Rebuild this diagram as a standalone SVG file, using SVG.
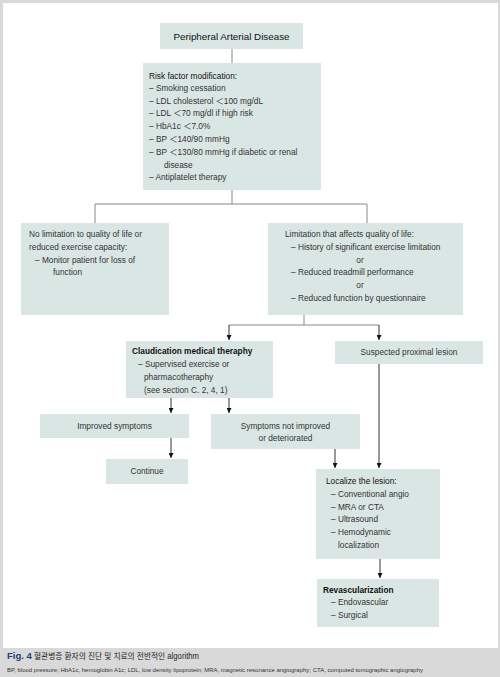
<svg xmlns="http://www.w3.org/2000/svg" width="500" height="677" viewBox="0 0 500 677">
<defs>
<marker id="arr" viewBox="0 0 10 10" refX="10" refY="5" markerWidth="5" markerHeight="5" orient="auto" markerUnits="userSpaceOnUse">
<path d="M0,0 L10,5 L0,10 z" fill="#111"/>
</marker>
<style>
.box{fill:#dae6e3}
.t{font-family:"Liberation Sans","Noto Sans CJK KR",sans-serif;font-size:8.3px;fill:#333}
.h{fill:#111}
.b{font-weight:bold;fill:#111}
.c{text-anchor:middle}
.ln{fill:none;stroke:#888;stroke-width:1}
.ar{fill:none;stroke:#333;stroke-width:1;marker-end:url(#arr)}
</style>
</defs>
<rect x="0" y="0" width="500" height="677" fill="#d9d9d9"/>
<rect x="3" y="3" width="495" height="645" fill="#ffffff"/>

<g id="connectors">
<path class="ln" d="M232,49 V63"/>
<path class="ln" d="M232,190 V204 M95,204 H367 M95,204 V223 M367,204 V223"/>
<path class="ln" d="M304,315 V325 M229,325 H379"/>
<path class="ar" d="M229,325 V340"/>
<path class="ar" d="M379,325 V340"/>
<path class="ar" d="M171,398 V413"/>
<path class="ar" d="M229,398 V413"/>
<path class="ar" d="M171,438 V458"/>
<path class="ar" d="M335,449 V468"/>
<path class="ar" d="M379,364 V468"/>
<path class="ar" d="M380,559 V578"/>
</g>

<g id="pad">
<rect class="box" x="160" y="23" width="143" height="26"/>
<text class="t c" x="231.5" y="39.5" style="font-size:9.8px;fill:#111">Peripheral Arterial Disease</text>
</g>

<g id="risk">
<rect class="box" x="143" y="63" width="178" height="127"/>
<text class="t h" x="149" y="79">Risk factor modification:</text>
<text class="t" x="149" y="91">– Smoking cessation</text>
<text class="t" x="149" y="103.5">– LDL cholesterol ＜100 mg/dL</text>
<text class="t" x="149" y="116">– LDL ＜70 mg/dl if high risk</text>
<text class="t" x="149" y="129">– HbA1c ＜7.0%</text>
<text class="t" x="149" y="142">– BP ＜140/90 mmHg</text>
<text class="t" x="149" y="155">– BP ＜130/80 mmHg if diabetic or renal</text>
<text class="t" x="164" y="167.5">disease</text>
<text class="t" x="149" y="180">– Antiplatelet therapy</text>
</g>

<g id="nolimit">
<rect class="box" x="21" y="223" width="148" height="92"/>
<text class="t" x="29" y="237">No limitation to quality of life or</text>
<text class="t" x="29" y="250">reduced exercise capacity:</text>
<text class="t" x="35" y="262.5">– Monitor patient for loss of</text>
<text class="t" x="53" y="275">function</text>
</g>

<g id="limit">
<rect class="box" x="268" y="223" width="195" height="92"/>
<text class="t" x="285" y="237">Limitation that affects quality of life:</text>
<text class="t" x="291" y="250">– History of significant exercise limitation</text>
<text class="t c" x="360" y="263">or</text>
<text class="t" x="291" y="275">– Reduced treadmill performance</text>
<text class="t c" x="360" y="288">or</text>
<text class="t" x="291" y="301">– Reduced function by questionnaire</text>
</g>

<g id="claudication">
<rect class="box" x="126" y="341" width="147" height="57"/>
<text class="t b" x="132" y="354">Claudication medical theraphy</text>
<text class="t" x="138" y="367">– Supervised exercise or</text>
<text class="t" x="144" y="380">pharmacotheraphy</text>
<text class="t" x="144" y="392.5">(see section C. 2, 4, 1)</text>
</g>

<g id="proximal">
<rect class="box" x="335" y="341" width="148" height="23"/>
<text class="t c" x="409" y="355">Suspected proximal lesion</text>
</g>

<g id="improved">
<rect class="box" x="40" y="414" width="149" height="24"/>
<text class="t c" x="114.5" y="429">Improved symptoms</text>
</g>

<g id="notimproved">
<rect class="box" x="211" y="414" width="149" height="35"/>
<text class="t c" x="285.5" y="429">Symptoms not improved</text>
<text class="t c" x="285.5" y="441">or deteriorated</text>
</g>

<g id="continue">
<rect class="box" x="106" y="459" width="82" height="25"/>
<text class="t c" x="147" y="474">Continue</text>
</g>

<g id="localize">
<rect class="box" x="316" y="469" width="124" height="90"/>
<text class="t h" x="326" y="484">Localize the lesion:</text>
<text class="t" x="331" y="497">– Conventional angio</text>
<text class="t" x="331" y="509.5">– MRA or CTA</text>
<text class="t" x="331" y="522">– Ultrasound</text>
<text class="t" x="331" y="535">– Hemodynamic</text>
<text class="t" x="338" y="547.5">localization</text>
</g>

<g id="revasc">
<rect class="box" x="317" y="579" width="122" height="48"/>
<text class="t b" x="323" y="592.5">Revascularization</text>
<text class="t" x="331" y="605">– Endovascular</text>
<text class="t" x="331" y="617.5">– Surgical</text>
</g>

<g id="caption">
<text x="7" y="659" style="font-family:'Liberation Sans',sans-serif;font-size:9.5px;font-weight:bold;fill:#1d3f7a">Fig. 4</text>
<text x="34" y="659" textLength="165" lengthAdjust="spacingAndGlyphs" style="font-family:'Liberation Sans','Noto Sans CJK KR',sans-serif;font-size:8.5px;fill:#222">혈관병증 환자의 진단 및 치료의 전반적인 algorithm</text>
<text x="7" y="672" textLength="416" lengthAdjust="spacingAndGlyphs" style="font-family:'Liberation Sans',sans-serif;font-size:6px;fill:#333">BP, blood pressure; HbA1c, hemoglobin A1c; LDL, low density lipoprotein; MRA, magnetic resonance angiography; CTA, computed tomographic angiography</text>
</g>
</svg>
